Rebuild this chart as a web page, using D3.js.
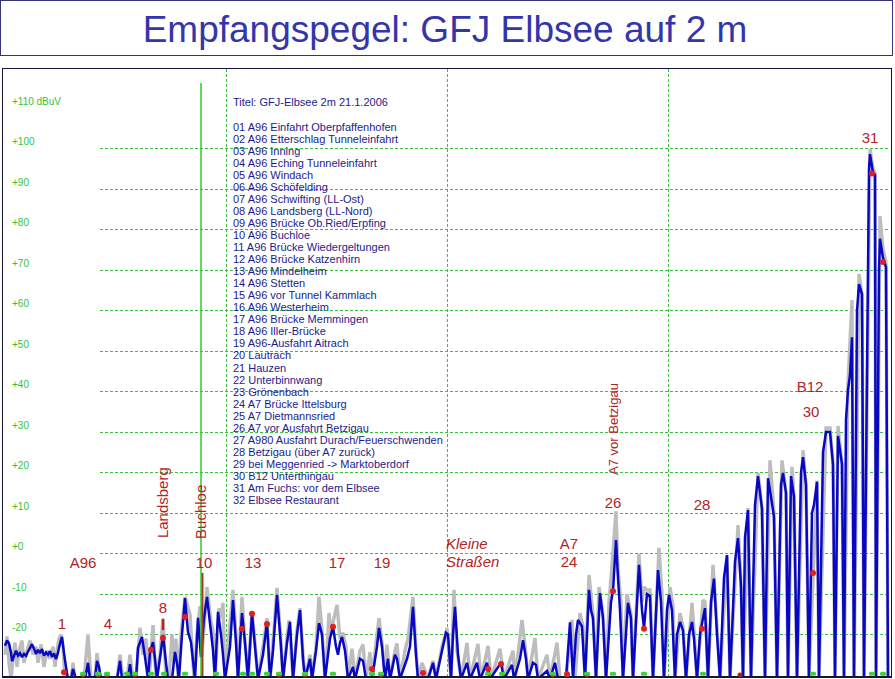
<!DOCTYPE html>
<html lang="de">
<head>
<meta charset="UTF-8">
<title>Empfangspegel: GFJ Elbsee auf 2 m</title>
<script src="https://d3js.org/d3.v7.min.js"></script>
<style>
    body { margin: 0; background: #fff; font-family: "Liberation Sans", Arial, sans-serif; }
    svg { display: block; }
</style>
</head>
<body>
<div id="chart"></div>
<script>
// level axis (dBuV) tick labels
const yTicks = [110, 100, 90, 80, 70, 60, 50, 40, 30, 20, 10, 0, -10, -20];
const yTickLabels = ["+110 dBuV", "+100", "+90", "+80", "+70", "+60", "+50", "+40", "+30", "+20", "+10", "+0", "-10", "-20"];
const gridLevels = [100, 90, 80, 70, 60, 50, 40, 30, 20, 10, 0, -10, -20];
const gridSamples = [221, 442, 663];

// measured level, [sample, dBuV]
const levelBlue = [
    [0,-22.8],[2,-21.5],[4,-22.2],[6,-24.5],[7,-26.6],[9,-25.3],[11,-24],[13,-25.2],[15,-24.6],[17,-25.6],[19,-24.8],[21,-25.3],[23,-24.2],[25,-23.3],[27,-22.4],[29,-23.5],[31,-24.8],[33,-23.8],[35,-24.6],[37,-23.6],[39,-25.2],[41,-24.4],[43,-25],[45,-24.1],[47,-25.5],[49,-24.7],[51,-26.1],[53,-24.5],[54,-23.3],[56,-21.3],[57,-20.6],[59,-24.6],[61,-28],[63,-31],
    [66,-31],[68,-28.5],[71,-31],[80,-31],[83,-27],[85,-31],[90,-31],[92,-26.5],[94,-28],[96,-31],[112,-31],[115,-26.5],[117,-31],[123,-31],[125,-27.3],[127,-31],[131,-31],[133,-23.3],[137,-20.6],[140,-25.6],[143,-31],[145,-24.3],[148,-21.9],[150,-26],[152,-31],[156,-24],[158,-20.1],[161,-27],[163,-31],[167,-31],[170,-24.3],[172,-27],[174,-31],[177,-20],[180,-11],[183,-19.4],[186,-21.9],[190,-31],[193,-15.9],[196,-25.6],[199,-16],[202,-10.7],[206,-19.4],[208,-23.8],[210,-31],[213,-14.4],[216,-20],[218,-25],[220,-31],
    [225,-23],[228,-11.5],[231,-22],[233,-31],[237,-14.7],[240,-22],[243,-31],[247,-14.7],[250,-23],[253,-31],[258,-25],[262,-17],[265,-31],[268,-24],[272,-10.2],[276,-23],[278,-31],[282,-22],[285,-16.9],[288,-31],[292,-20],[295,-14],[298,-26],[300,-31],[305,-26],[307,-31],[311,-24],[314,-17.2],[317,-20],[320,-31],[325,-21],[328,-18.1],[331,-23],[333,-25],[335,-22],[337,-20.6],[340,-24],[343,-31],[348,-28],[350,-31],[355,-26],[358,-26.5],[361,-31],[367,-31],[372,-23],[374,-18.4],[377,-23],[380,-31],[383,-26],[385,-31],[390,-25],[392,-26],[395,-31],[402,-26],[405,-23],[408,-13.2],[411,-25],[413,-31],[423,-31],[428,-27],[431,-31],[437,-24],[441,-19.6],[443,-20],[446,-31],
    [448,-20],[450,-13.2],[453,-25],[456,-31],[462,-27],[465,-31],[472,-27],[475,-31],[482,-27],[485,-31],[496,-27],[499,-31],[507,-27.5],[509,-31],[515,-26],[518,-21.4],[521,-26],[523,-31],[528,-27],[531,-27.5],[533,-31],[542,-29],[545,-31],[550,-27],[553,-31],[561,-31],[565,-17],[568,-31],[571,-20],[573,-16.4],[577,-18],[580,-31],[584,-9],[586,-14],[588,-16],[591,-31],[595,-9.8],[598,-16],[601,-31],[606,-12],[608,-9.3],[611,3.3],[613,-6],[615,-14],[618,-31],[623,-12.2],[626,-16],[628,-31],[634,-2.8],[637,-14],[639,-18.5],[642,-10],[645,-10.5],[648,-31],[653,-4.1],[656,-12],[659,-31],[662,-14],[664,-10.2],[667,-14],[670,-31],
    [672,-20],[675,-16.9],[678,-19],[681,-31],[684,-20],[687,-16.9],[689,-21],[692,-31],[695,-20],[698,-16],[700,-13.5],[703,-31],[706,-12],[709,-6.2],[712,-20],[715,-31],[719,-6],[722,-0.4],[725,-31],[730,-2],[733,3.8],[736,-8],[738,-31],[740,4],[743,10.7],[746,-31],[750,12],[753,19.1],[757,11],[760,-31],[763,18.6],[766,14],[769,9],[772,-31],[776,17],[778,19.9],[781,15],[783,-31],[786,19.1],[789,14],[792,-31],[796,20],[798,23.8],[801,17],[804,-31],[807,10],[809,12],[812,17.7],[814,-31],[818,25],[821,30],[825,30],[828,22],[830,-31],[833,29],[837,22],[839,-31],[841,33],[843,40.4],[845,44],[847,53.4],[849,-31],[852,60],[854,66.5],[857,64],[859,-31],[864,95],[865,98.6],[868,94],[870,93.5],[871,-31],[874,70],[875,77.7],[878,73],[881,70.7],[883,-31]
];

// second (grey) level trace, [sample, dBuV]
const levelGrey = [
    [0,-25],[2,-20.5],[4,-27],[6,-31],[8,-26],[10,-22],[12,-28],[14,-24],[17,-21.5],[19,-27],[22,-24],[25,-21.5],[28,-25],[31,-23],[33,-27],[36,-22.5],[39,-28],[42,-24],[45,-26],[48,-23],[50,-28],[52,-24],[54,-21],[56,-20],[58,-23],[60,-31],
    [66,-31],[68,-27],[70,-31],[79,-31],[83,-20],[86,-31],[90,-31],[92,-24.6],[95,-31],[112,-31],[115,-25],[118,-31],[122,-31],[125,-25],[128,-31],[131,-31],[135,-18.3],[138,-25],[141,-21],[144,-31],[146,-25],[148,-17.7],[151,-31],[155,-25],[158,-16],[161,-31],[164,-31],[167,-20],[169,-27],[171,-21],[173,-31],[176,-20],[180,-10.7],[185,-15],[189,-31],[192,-20],[195,-13],[197,-25],[202,-8.3],[206,-17],[208,-19],[210,-31],[214,-13.5],[216,-16],[218,-12.2],[220,-31],
    [224,-20],[228,-9],[231,-20],[233,-31],[237,-10.7],[240,-22],[243,-31],[247,-14.4],[250,-22],[253,-31],[258,-23],[262,-16],[265,-31],[268,-22],[272,-8.5],[276,-22],[278,-31],[282,-21],[284,-16.5],[288,-31],[292,-19],[295,-13.5],[298,-25],[300,-31],[305,-25],[307,-31],[311,-23],[314,-10.7],[317,-19],[320,-31],[322,-24],[324,-14.7],[326,-20],[328,-17],[332,-12.7],[335,-21],[338,-19.6],[341,-23],[343,-31],[347,-23.5],[350,-31],[355,-24],[358,-22.5],[361,-31],[365,-24.3],[367,-31],[371,-22],[374,-16],[377,-22],[380,-31],[382,-22.5],[385,-31],[390,-24],[392,-22.2],[395,-31],[400,-24],[403,-21],[408,-10.7],[411,-24],[413,-31],[417,-27],[423,-31],[428,-26.5],[431,-31],[437,-23],[442,-18.4],[446,-31],
    [449,-9],[452,-24],[456,-31],[462,-22.1],[465,-31],[473,-22.3],[476,-31],[483,-22.8],[486,-31],[495,-23.5],[499,-31],[508,-24],[510,-31],[517,-16.4],[521,-25],[523,-31],[530,-20.9],[533,-31],[542,-25],[545,-31],[552,-22],[555,-31],[561,-31],[567,-16.4],[570,-31],[575,-14.7],[578,-18],[580,-31],[584,-5.3],[588,-15],[591,-31],[594,-8.3],[598,-15],[601,-31],[604,-12],[606,-6],[611,10.4],[613,-4],[616,-12],[618,-31],[622,-10],[626,-15],[628,-31],[634,0],[637,-12],[639,-8.3],[642,-9],[645,-9],[648,-31],[654,1.4],[657,-10],[659,-31],[665,-8.3],[668,-13],[670,-31],
    [675,-14.7],[678,-18],[681,-31],[687,-12.2],[689,-19],[692,-31],[698,-11.5],[700,-12],[703,-31],[708,-2.8],[712,-18],[715,-31],[722,-0.5],[725,-31],[733,7],[736,-7],[738,-31],[743,11.2],[746,-31],[753,19.9],[757,11],[760,-31],[765,23],[769,10],[772,-31],[777,23],[781,15],[783,-31],[787,21.4],[789,14],[792,-31],[798,25.5],[801,17],[804,-31],[812,18],[814,-31],[821,31],[825,31],[828,22],[830,-31],[833,31.5],[837,22],[839,-31],[843,42],[847,62.6],[849,-31],[854,69],[857,64],[859,-31],[865,99.9],[868,95],[870,94],[871,-31],[875,83.3],[878,75],[881,72],[883,-31]
];

// waypoint markers
const redPoints = [[59,-29.3],[146,-23.8],[158,-20.9],[180,-15.7],[237,-18.6],[247,-14.9],[262,-17.4],[328,-18.1],[367,-28.5],[418,-29.5],[483,-28.5],[496,-27.3],[562,-29.8],[608,-9.3],[639,-18.6],[697,-18.6],[808,-4.8],[867,93.8],[878,72]];
const redFloor = [78, 93, 102, 130, 274, 300, 376, 548, 582, 735];
const greenFloor = [78, 93, 102, 122, 130, 146, 159, 180, 211, 238, 247, 262, 274, 300, 328, 367, 376, 483, 497, 548, 582, 608, 639, 698, 808, 867, 878];

// annotations [text, sample, dBuV]
const labels = [["1",57,-18.6],["4",103,-18.6],["8",158,-14.7],["A96",78,-3.6],["10",199,-3.6],["13",248,-3.6],["17",332,-3.6],["19",377,-3.6],["A7",564,1.1],["24",564,-3.3],["26",608,11.2],["28",697,10.7],["B12",805,39.9],["30",806,33.8],["31",865,101.4]];
const italicLabels = [["Kleine",441,1.1],["Straßen",441,-3.3]];
const verticalLabels = [["Landsberg",163,3.8],["Buchloe",201,3.6],["A7 vor Betzigau",613,19.4]];

const legendTitle = "Titel: GFJ-Elbsee 2m 21.1.2006";
const legendItems = [
    "01 A96 Einfahrt Oberpfaffenhofen", "02 A96 Etterschlag Tunneleinfahrt", "03 A96 Inning",
    "04 A96 Eching Tunneleinfahrt", "05 A96 Windach", "06 A96 Schöfelding",
    "07 A96 Schwifting (LL-Ost)", "08 A96 Landsberg (LL-Nord)", "09 A96 Brücke Ob.Ried/Erpfing",
    "10 A96 Buchloe", "11 A96 Brücke Wiedergeltungen", "12 A96 Brücke Katzenhirn",
    "13 A96 Mindelheim", "14 A96 Stetten", "15 A96 vor Tunnel Kammlach", "16 A96 Westerheim",
    "17 A96 Brücke Memmingen", "18 A96 Iller-Brücke", "19 A96-Ausfahrt Aitrach", "20 Lautrach",
    "21 Hauzen", "22 Unterbinnwang", "23 Grönenbach", "24 A7 Brücke Ittelsburg",
    "25 A7 Dietmannsried", "26 A7 vor Ausfahrt Betzigau", "27 A980 Ausfahrt Durach/Feuerschwenden",
    "28 Betzigau (über A7 zurück)", "29 bei Meggenried -> Marktoberdorf", "30 B12 Unterthingau",
    "31 Am Fuchs: vor dem Elbsee", "32 Elbsee Restaurant"
];

const W = 895, H = 679;
const svg = d3.select("#chart").append("svg").attr("width", W).attr("height", H);

// title box
svg.append("rect").attr("x", 0.5).attr("y", 0.5).attr("width", 892).attr("height", 55)
    .attr("fill", "none").attr("stroke", "#34347a");
svg.append("text").attr("x", 445).attr("y", 42).attr("text-anchor", "middle")
    .style("font-size", "37px").attr("fill", "#3535aa")
    .text("Empfangspegel: GFJ Elbsee auf 2 m");

const x = d3.scaleLinear().domain([0, 884]).range([5, 889]);
const y = d3.scaleLinear().domain([-30.5, 110]).range([677, 108]);

// plot frame
svg.append("rect").attr("x", 2.5).attr("y", 68.5).attr("width", 889).attr("height", 609)
    .attr("fill", "none").attr("stroke", "#12123a");

// grid
const gridColor = "#3cbf3c";
svg.append("g").selectAll("line").data(gridLevels).join("line")
    .attr("x1", x(95)).attr("x2", x(884))
    .attr("y1", d => Math.round(y(d)) + 0.5).attr("y2", d => Math.round(y(d)) + 0.5)
    .attr("stroke", gridColor).attr("stroke-dasharray", "3,2");
svg.append("g").selectAll("line").data(gridSamples).join("line")
    .attr("x1", d => Math.round(x(d)) + 0.5).attr("x2", d => Math.round(x(d)) + 0.5)
    .attr("y1", 69).attr("y2", 677)
    .attr("stroke", gridColor).attr("stroke-dasharray", "3,2");

// y labels
svg.append("g").selectAll("text").data(yTicks).join("text")
    .attr("x", 12).attr("y", d => y(d) - 3)
    .style("font-size", "10px").attr("fill", "#33c433")
    .text((d, i) => yTickLabels[i]);

// legend
svg.append("text").attr("x", 233).attr("y", 105.5).style("font-size", "11px")
    .attr("fill", "#1c1c8a").text(legendTitle);
svg.append("g").selectAll("text").data(legendItems).join("text")
    .attr("x", 233).attr("y", (d, i) => 130.7 + i * 12.04)
    .style("font-size", "11px").attr("fill", "#1c1c8a").text(d => d);

// traces
svg.append("clipPath").attr("id", "plotClip").append("rect")
    .attr("x", 3).attr("y", 69).attr("width", 888).attr("height", 607.5);
const line = d3.line().x(d => x(d[0])).y(d => y(d[1]));
const traces = svg.append("g").attr("clip-path", "url(#plotClip)");
traces.append("path").datum(levelGrey).attr("d", line)
    .attr("fill", "none").attr("stroke", "#bdbdbd").attr("stroke-width", 3.4)
    .attr("stroke-linejoin", "miter").attr("stroke-miterlimit", 2);
traces.append("path").datum(levelBlue).attr("d", line)
    .attr("fill", "none").attr("stroke", "#0808c4").attr("stroke-width", 2.5)
    .attr("stroke-linejoin", "miter").attr("stroke-miterlimit", 2);

// marker lines at Buchloe and Landsberg
svg.append("line").attr("x1", x(196)).attr("x2", x(196)).attr("y1", y(116.2)).attr("y2", y(-30.5))
    .attr("stroke", "#2ccc2c").attr("stroke-width", 1.5);
svg.append("line").attr("x1", x(197.5)).attr("x2", x(197.5)).attr("y1", y(-4.8)).attr("y2", y(-30.5))
    .attr("stroke", "#a83a20").attr("stroke-width", 2);
svg.append("line").attr("x1", x(158)).attr("x2", x(158)).attr("y1", y(-16.2)).attr("y2", y(-18.9))
    .attr("stroke", "#c02020").attr("stroke-width", 2.5);

// bottom axis
svg.append("line").attr("x1", 2).attr("x2", 891).attr("y1", 677).attr("y2", 677)
    .attr("stroke", "#14143c").attr("stroke-width", 2);

// dots
svg.append("g").selectAll("circle").data(redFloor).join("circle")
    .attr("cx", d => x(d)).attr("cy", y(-30)).attr("r", 2.5).attr("fill", "#a02020");
svg.append("g").selectAll("rect").data(greenFloor).join("rect")
    .attr("x", d => x(d) - 3).attr("y", y(-29.2)).attr("width", 6).attr("height", 4)
    .attr("rx", 1.5).attr("fill", "#3ad43a");
svg.append("g").selectAll("circle").data(redPoints).join("circle")
    .attr("cx", d => x(d[0])).attr("cy", d => y(d[1])).attr("r", 3).attr("fill", "#e02020");

// annotations
const labelColor = "#b22424";
svg.append("g").selectAll("text").data(labels).join("text")
    .attr("x", d => x(d[1])).attr("y", d => y(d[2])).attr("text-anchor", "middle")
    .style("font-size", "15px").attr("fill", labelColor).text(d => d[0]);
svg.append("g").selectAll("text").data(italicLabels).join("text")
    .attr("x", d => x(d[1])).attr("y", d => y(d[2]))
    .style("font-size", "15px").style("font-style", "italic").attr("fill", labelColor).text(d => d[0]);
svg.append("g").selectAll("text").data(verticalLabels).join("text")
    .attr("transform", d => `translate(${x(d[1])},${y(d[2])}) rotate(-90)`)
    .style("font-size", d => d[0].length > 10 ? "13px" : "15px")
    .attr("fill", labelColor).text(d => d[0]);
</script>
</body>
</html>
